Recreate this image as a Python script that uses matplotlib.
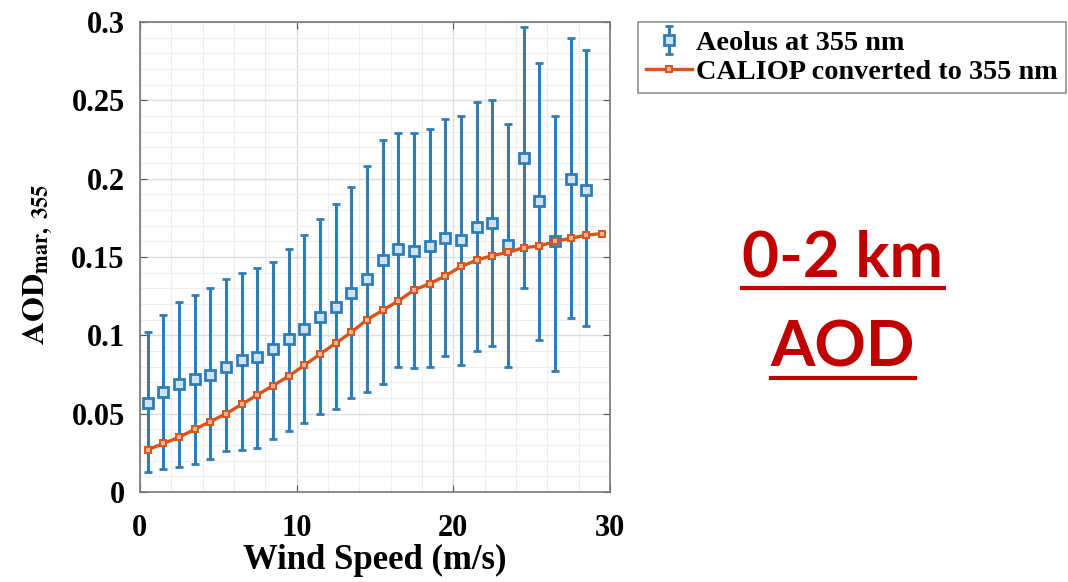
import matplotlib
matplotlib.use('Agg')
from matplotlib import pyplot as plt
from matplotlib.lines import Line2D
import numpy as np

# Aeolus binned AOD at 355 nm (mean with lower/upper error bounds)
aeolus_wind = [0.5, 1.5, 2.5, 3.5, 4.5, 5.5, 6.5, 7.5, 8.5, 9.5,
               10.5, 11.5, 12.5, 13.5, 14.5, 15.5, 16.5, 17.5, 18.5, 19.5,
               20.5, 21.5, 22.5, 23.5, 24.5, 25.5, 26.5, 27.5, 28.5]
aeolus_aod = [0.057, 0.064, 0.069, 0.072, 0.075, 0.080, 0.084, 0.086, 0.091, 0.098,
              0.104, 0.112, 0.118, 0.127, 0.136, 0.148, 0.155, 0.154, 0.157, 0.162,
              0.161, 0.169, 0.172, 0.158, 0.213, 0.186, 0.160, 0.200, 0.193]
aeolus_low = [0.013, 0.015, 0.016, 0.018, 0.021, 0.026, 0.027, 0.028, 0.034, 0.039,
              0.044, 0.050, 0.053, 0.060, 0.064, 0.069, 0.080, 0.079, 0.080, 0.087,
              0.081, 0.090, 0.093, 0.080, 0.130, 0.097, 0.077, 0.111, 0.106]
aeolus_high = [0.102, 0.113, 0.121, 0.126, 0.130, 0.136, 0.140, 0.143, 0.147, 0.155,
               0.164, 0.174, 0.184, 0.195, 0.208, 0.225, 0.229, 0.229, 0.232, 0.238,
               0.240, 0.249, 0.250, 0.235, 0.297, 0.274, 0.240, 0.290, 0.282]

# CALIOP AOD converted to 355 nm
caliop_wind = [0.5, 1.5, 2.5, 3.5, 4.5, 5.5, 6.5, 7.5, 8.5, 9.5,
               10.5, 11.5, 12.5, 13.5, 14.5, 15.5, 16.5, 17.5, 18.5, 19.5,
               20.5, 21.5, 22.5, 23.5, 24.5, 25.5, 26.5, 27.5, 28.5, 29.5]
caliop_aod = [0.027, 0.031, 0.035, 0.040, 0.045, 0.050, 0.056, 0.062, 0.068, 0.074,
              0.081, 0.088, 0.095, 0.102, 0.110, 0.116, 0.122, 0.129, 0.133, 0.138,
              0.144, 0.148, 0.151, 0.153, 0.156, 0.157, 0.160, 0.162, 0.164, 0.165]

y_ticks = [0, 0.05, 0.1, 0.15, 0.2, 0.25, 0.3]
y_tick_labels = ['0', '0.05', '0.1', '0.15', '0.2', '0.25', '0.3']
x_ticks = [0, 10, 20, 30]

blue = '#2f7db8'
orange = '#d9541a'
red = '#c00000'

plt.rcParams['font.family'] = ['Liberation Serif', 'DejaVu Serif']
plt.rcParams['font.weight'] = 'bold'
plt.rcParams['mathtext.fontset'] = 'stix'

fig = plt.figure(figsize=(10.68, 5.82), dpi=100)
ax = fig.add_axes([0.131, 0.1546, 0.44, 0.8074])

err = [np.array(aeolus_aod) - np.array(aeolus_low), np.array(aeolus_high) - np.array(aeolus_aod)]
h_aeolus = ax.errorbar(aeolus_wind, aeolus_aod, yerr=err, fmt='s', color=blue, ecolor=blue,
                       elinewidth=2.2, capsize=3, capthick=2.2, markersize=7.5,
                       markerfacecolor='#cfe3f2', markeredgewidth=2.0,
                       label='Aeolus at 355 nm', zorder=3)
h_caliop, = ax.plot(caliop_wind, caliop_aod, '-s', color=orange, linewidth=2.4, markersize=5,
                    markerfacecolor='#f2b08f', markeredgewidth=1.4,
                    label='CALIOP converted to 355 nm', zorder=4)

ax.set_xlim(0, 30)
ax.set_ylim(0, 0.3)
ax.set_xticks(x_ticks)
ax.set_yticks(y_ticks)
ax.set_yticklabels(y_tick_labels)
ax.set_xticks(np.arange(0, 31, 2), minor=True)
ax.set_yticks(np.arange(0, 0.301, 0.01), minor=True)
ax.tick_params(axis='both', which='major', labelsize=22, direction='in',
               top=True, right=True, length=5, color='#555555')
ax.tick_params(axis='y', which='major', pad=11)
ax.tick_params(axis='x', which='major', pad=16)
ax.tick_params(axis='both', which='minor', length=0)
ax.grid(True, which='major', color='#dddddd', linewidth=1.0)
ax.grid(True, which='minor', color='#eeeeee', linewidth=0.8)
ax.set_axisbelow(True)
for s in ax.spines.values():
    s.set_color('#777777')
    s.set_linewidth(1.2)

ax.set_xlabel('Wind Speed (m/s)', fontsize=25, fontweight='bold')
ax.xaxis.set_label_coords(0.5, -0.11, transform=ax.transAxes)
ax.xaxis.label.set_va('top')
ax.set_ylabel(r'$\mathbf{AOD_{mar,\ 355}}$', fontsize=23)
ax.yaxis.set_label_coords(-0.18, 0.485)

# legend sits outside the axes, top right of the figure
leg = ax.legend(handles=[h_aeolus, h_caliop], loc='upper left',
                bbox_to_anchor=(638 / 1068, 1 - 22 / 582),
                bbox_transform=fig.transFigure, borderaxespad=0, fontsize=20.3,
                frameon=True, fancybox=False, edgecolor='#777777',
                handlelength=1.6, handletextpad=0.15, borderpad=0.3, labelspacing=0.1)
leg.get_frame().set_linewidth(1.2)

# big red underlined annotation
t1 = fig.text(843 / 1068, 1 - 258 / 582, '0-2 km', color=red, fontsize=46,
              fontweight='bold', family=['Lato', 'DejaVu Sans'], ha='center', va='center')
t2 = fig.text(843 / 1068, 1 - 348 / 582, 'AOD', color=red, fontsize=46,
              fontweight='bold', family=['Lato', 'DejaVu Sans'], ha='center', va='center')
fig.canvas.draw()
renderer = fig.canvas.get_renderer()
for t in (t1, t2):
    bb = t.get_window_extent(renderer).transformed(fig.transFigure.inverted())
    yline = bb.y0 - 0.002
    fig.add_artist(Line2D([bb.x0, bb.x1], [yline, yline], transform=fig.transFigure,
                          color=red, linewidth=3))

fig.savefig('out.png', dpi=100)
